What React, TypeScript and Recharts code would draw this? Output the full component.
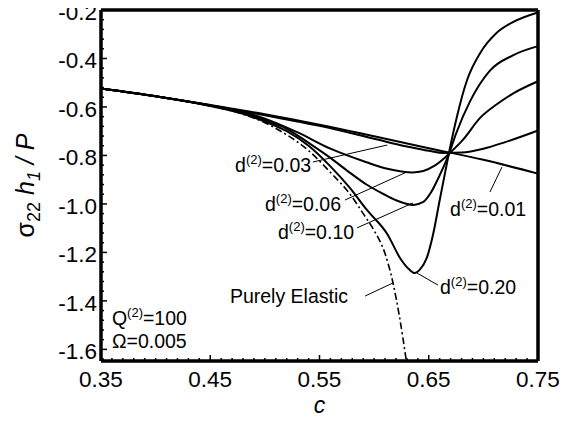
import React from 'react';
import { LineChart, Line, XAxis, YAxis, ReferenceLine, ReferenceDot, Label } from 'recharts';

const FONT = '"Liberation Sans", Arial, Helvetica, sans-serif';

// ---- data ----
const cD001 = [0.35, 0.40, 0.45, 0.50, 0.55, 0.60, 0.65, 0.70, 0.75];
const yD001 = [-0.524, -0.556, -0.592, -0.630, -0.673, -0.721, -0.770, -0.818, -0.875];

const cD003 = [0.35, 0.40, 0.45, 0.50, 0.55, 0.60, 0.63, 0.65, 0.665, 0.68, 0.70, 0.72, 0.75];
const yD003 = [-0.524, -0.556, -0.593, -0.634, -0.678, -0.731, -0.763, -0.781, -0.790, -0.788, -0.772, -0.745, -0.697];

const cD006 = [0.35, 0.40, 0.45, 0.48, 0.50, 0.53, 0.56, 0.593, 0.61, 0.625, 0.635, 0.645, 0.655, 0.665, 0.672, 0.681, 0.697, 0.712, 0.727, 0.75];
const yD006 = [-0.524, -0.556, -0.594, -0.620, -0.648, -0.705, -0.772, -0.828, -0.853, -0.866, -0.870, -0.864, -0.843, -0.808, -0.778, -0.737, -0.645, -0.590, -0.545, -0.494];

const cD010 = [0.35, 0.40, 0.45, 0.48, 0.50, 0.52, 0.54, 0.56, 0.578, 0.593, 0.608, 0.62, 0.636, 0.645, 0.652, 0.66, 0.668, 0.675, 0.688, 0.706, 0.727, 0.75];
const yD010 = [-0.524, -0.556, -0.595, -0.625, -0.655, -0.690, -0.748, -0.810, -0.872, -0.920, -0.958, -0.985, -1.004, -0.992, -0.953, -0.882, -0.800, -0.710, -0.575, -0.450, -0.387, -0.349];

const cD020 = [0.35, 0.40, 0.45, 0.48, 0.50, 0.52, 0.54, 0.56, 0.578, 0.593, 0.612, 0.624, 0.632, 0.637, 0.642, 0.648, 0.654, 0.66, 0.665, 0.670, 0.676, 0.685, 0.697, 0.712, 0.727, 0.75];
const yD020 = [-0.524, -0.556, -0.596, -0.628, -0.660, -0.700, -0.760, -0.845, -0.935, -1.023, -1.124, -1.225, -1.270, -1.285, -1.270, -1.225, -1.125, -0.985, -0.870, -0.757, -0.636, -0.490, -0.378, -0.295, -0.250, -0.210];

const cElastic = [0.35, 0.40, 0.45, 0.48, 0.50, 0.52, 0.54, 0.56, 0.578, 0.59, 0.60, 0.61, 0.617, 0.623, 0.6295];
const yElastic = [-0.524, -0.556, -0.596, -0.630, -0.665, -0.715, -0.780, -0.870, -0.960, -1.040, -1.110, -1.205, -1.320, -1.460, -1.648];

const xTickLabels = [0.35, 0.45, 0.55, 0.65, 0.75];
const yTickLabels = [-0.2, -0.4, -0.6, -0.8, -1.0, -1.2, -1.4, -1.6];

const X_DOMAIN: [number, number] = [0.35, 0.75];
const Y_DOMAIN: [number, number] = [-1.648, -0.2];

// annotations: label text pieces and anchor (data coords)
const annoMain = ['d', 'd', 'd', 'd', 'd', 'Purely Elastic', 'Q', 'Ω'];
const annoSup = ['(2)', '(2)', '(2)', '(2)', '(2)', '', '(2)', ''];
const annoRest = ['=0.03', '=0.06', '=0.10', '=0.20', '=0.01', '', '=100', '=0.005'];
const annoC = [0.4727, 0.5001, 0.512, 0.6603, 0.6695, 0.468, 0.360, 0.360];
const annoY = [-0.868, -1.028, -1.146, -1.372, -1.049, -1.410, -1.4995, -1.594];

// leader lines: [c1, y1, c2, y2]
const leaders: number[][] = [
  [0.544, -0.827, 0.612, -0.757],
  [0.5733, -0.984, 0.6301, -0.868],
  [0.5843, -1.099, 0.6356, -0.996],
  [0.6392, -1.285, 0.6585, -1.335],
  [0.706, -0.951, 0.717, -0.848],
  [0.5917, -1.380, 0.6173, -1.326],
];

const zip = (cs: number[], ys: number[]) => cs.map((c, i) => ({ c, y: ys[i] }));
const dataD001 = zip(cD001, yD001);
const dataD003 = zip(cD003, yD003);
const dataD006 = zip(cD006, yD006);
const dataD010 = zip(cD010, yD010);
const dataD020 = zip(cD020, yD020);
const dataElastic = zip(cElastic, yElastic);

// minor tick positions
const xMinor: number[] = [];
for (let i = 0; i <= 40; i++) xMinor.push(Math.round((0.35 + i * 0.01) * 1000) / 1000);
const yMinor: number[] = [];
for (let i = 0; i <= 36; i++) yMinor.push(Math.round((-0.2 - i * 0.04) * 1000) / 1000);

const isIn = (arr: number[], v: number) => arr.some((m) => Math.abs(m - v) < 1e-6);

const BottomTick = (props: any) => {
  const { x, y, payload } = props;
  const v = payload.value;
  const major = isIn(xTickLabels, v);
  return (
    <g>
      <line x1={x} x2={x} y1={y} y2={y - (major ? 6 : 3)} stroke="#000" strokeWidth={1.5} />
      {major && (
        <text x={x} y={y + 26} textAnchor="middle" fontSize={22.5} fontFamily={FONT} fill="#000">
          {v.toFixed(2)}
        </text>
      )}
    </g>
  );
};

const TopTick = (props: any) => {
  const { x, y, payload } = props;
  const major = isIn(xTickLabels, payload.value);
  return <line x1={x} x2={x} y1={y} y2={y + (major ? 6 : 3)} stroke="#000" strokeWidth={1.5} />;
};

const LeftTick = (props: any) => {
  const { x, y, payload } = props;
  const v = payload.value;
  const major = isIn(yTickLabels, v);
  return (
    <g>
      <line x1={x} x2={x + (major ? 6 : 3)} y1={y} y2={y} stroke="#000" strokeWidth={1.5} />
      {major && (
        <text x={x - 4} y={y + 10} textAnchor="end" fontSize={22.5} fontFamily={FONT} fill="#000">
          {v.toFixed(1)}
        </text>
      )}
    </g>
  );
};

const RightTick = (props: any) => {
  const { x, y, payload } = props;
  const major = isIn(yTickLabels, payload.value);
  return <line x1={x} x2={x - (major ? 6 : 3)} y1={y} y2={y} stroke="#000" strokeWidth={1.5} />;
};

const YTitle = (props: any) => {
  const vb = props.viewBox || { x: 0, y: 0, width: 0, height: 0 };
  const cx = vb.x + 26;
  const cy = vb.y + vb.height / 2;
  return (
    <text
      transform={`translate(${cx},${cy}) rotate(-90)`}
      textAnchor="middle"
      fontSize={25}
      fontFamily={FONT}
      fill="#000"
    >
      <tspan>σ</tspan>
      <tspan fontSize={18} dy={6}>22</tspan>
      <tspan dy={-6}> </tspan>
      <tspan fontStyle="italic">h</tspan>
      <tspan fontSize={18} fontStyle="italic" dy={6}>1</tspan>
      <tspan dy={-6} fontStyle="italic"> / P</tspan>
    </text>
  );
};

const XTitle = (props: any) => {
  const vb = props.viewBox || { x: 0, y: 0, width: 0, height: 0 };
  return (
    <text x={vb.x + vb.width / 2} y={vb.y + 52} textAnchor="middle" fontSize={23} fontStyle="italic" fontFamily={FONT} fill="#000">
      c
    </text>
  );
};

const makeAnno = (i: number) => (props: any) => {
  const { cx, cy } = props;
  return (
    <text x={cx} y={cy} fontSize={19.5} fontFamily={FONT} fill="#000">
      {annoMain[i]}
      {annoSup[i] ? (
        <tspan dy={-8} fontSize={13}>
          {annoSup[i]}
        </tspan>
      ) : null}
      {annoRest[i] ? (
        <tspan dy={annoSup[i] ? 8 : 0} fontSize={19.5}>
          {annoRest[i]}
        </tspan>
      ) : null}
    </text>
  );
};

export default function App() {
  return (
    <div style={{ margin: '-8px 0' }}>
      <LineChart width={564} height={423} margin={{ top: 9, right: 33, bottom: 0, left: 0 }}>
        <XAxis
          xAxisId={0}
          dataKey="c"
          type="number"
          domain={X_DOMAIN}
          ticks={xMinor}
          interval={0}
          tickSize={0}
          tickMargin={0}
          tickLine={false}
          tick={<BottomTick />}
          axisLine={{ stroke: '#000', strokeWidth: 3.5 }}
          height={62}
        >
          <Label content={<XTitle />} />
        </XAxis>
        <XAxis
          xAxisId="top"
          orientation="top"
          dataKey="c"
          type="number"
          domain={X_DOMAIN}
          ticks={xMinor}
          interval={0}
          tickSize={0}
          tickMargin={0}
          tickLine={false}
          tick={<TopTick />}
          axisLine={{ stroke: '#000', strokeWidth: 3.5 }}
          height={1}
        />
        <YAxis
          yAxisId={0}
          type="number"
          domain={Y_DOMAIN}
          ticks={yMinor}
          interval={0}
          tickSize={0}
          tickMargin={0}
          tickLine={false}
          tick={<LeftTick />}
          axisLine={{ stroke: '#000', strokeWidth: 3.5 }}
          width={93}
        >
          <Label content={<YTitle />} />
        </YAxis>
        <YAxis
          yAxisId="right"
          orientation="right"
          type="number"
          domain={Y_DOMAIN}
          ticks={yMinor}
          interval={0}
          tickSize={0}
          tickMargin={0}
          tickLine={false}
          tick={<RightTick />}
          axisLine={{ stroke: '#000', strokeWidth: 3.5 }}
          width={1}
        />

        <Line data={dataElastic} dataKey="y" type="monotone" stroke="#000" strokeWidth={1.6} strokeDasharray="7 3 2 3" dot={false} isAnimationActive={false} />
        <Line data={dataD001} dataKey="y" type="monotone" stroke="#000" strokeWidth={2} dot={false} isAnimationActive={false} />
        <Line data={dataD003} dataKey="y" type="monotone" stroke="#000" strokeWidth={2} dot={false} isAnimationActive={false} />
        <Line data={dataD006} dataKey="y" type="monotone" stroke="#000" strokeWidth={2} dot={false} isAnimationActive={false} />
        <Line data={dataD010} dataKey="y" type="monotone" stroke="#000" strokeWidth={2} dot={false} isAnimationActive={false} />
        <Line data={dataD020} dataKey="y" type="monotone" stroke="#000" strokeWidth={2} dot={false} isAnimationActive={false} />

        {leaders.map((s, i) => (
          <ReferenceLine
            key={'l' + i}
            segment={[{ x: s[0], y: s[1] }, { x: s[2], y: s[3] }]}
            stroke="#000"
            strokeWidth={1}
            ifOverflow="visible"
          />
        ))}
        {annoMain.map((_, i) => (
          <ReferenceDot key={'a' + i} x={annoC[i]} y={annoY[i]} r={0} ifOverflow="visible" shape={makeAnno(i)} />
        ))}
      </LineChart>
    </div>
  );
}
